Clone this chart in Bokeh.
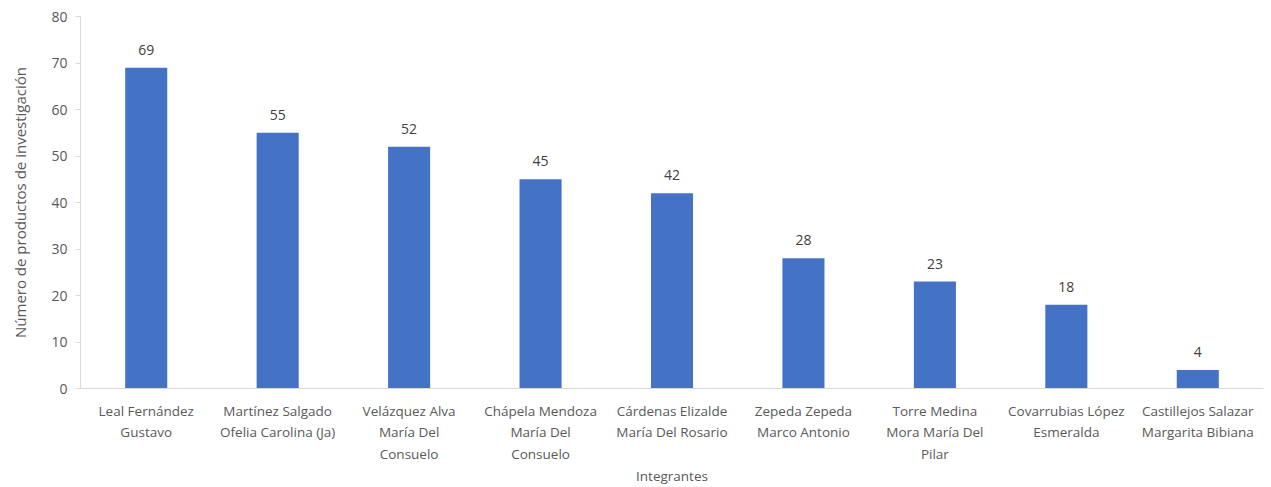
from bokeh.plotting import figure
from bokeh.models import ColumnDataSource, FactorRange, Range1d, FixedTicker
from bokeh.embed import file_html
from bokeh.resources import INLINE
from bokeh.core.properties import value

categories = [
    "Leal Fernández\nGustavo",
    "Martínez Salgado\nOfelia Carolina (Ja)",
    "Velázquez Alva\nMaría Del\nConsuelo",
    "Chápela Mendoza\nMaría Del\nConsuelo",
    "Cárdenas Elizalde\nMaría Del Rosario",
    "Zepeda Zepeda\nMarco Antonio",
    "Torre Medina\nMora María Del\nPilar",
    "Covarrubias López\nEsmeralda",
    "Castillejos Salazar\nMargarita Bibiana",
]
values = [69, 55, 52, 45, 42, 28, 23, 18, 4]
y_ticks = [0, 10, 20, 30, 40, 50, 60, 70, 80]

FONT = "Open Sans"
GRAY = "#595959"

src = ColumnDataSource(dict(cat=categories, val=values, lbl=[str(v) for v in values]))

p = figure(x_range=FactorRange(*categories, range_padding=0), y_range=Range1d(0, 80),
           width=1271, height=487, output_backend="svg", toolbar_location=None,
           min_border_left=80, min_border_right=8, min_border_top=16, min_border_bottom=10)
p.outline_line_color = None
p.grid.grid_line_color = None

p.vbar(x="cat", top="val", width=0.32, source=src, fill_color="#4472C4", line_color=None)
p.text(x="cat", y="val", text="lbl", source=src, text_align="center", text_baseline="bottom",
       y_offset=-13, text_font=value(FONT), text_font_size="14px", text_color="#404040")

p.yaxis.ticker = FixedTicker(ticks=y_ticks)
p.yaxis.minor_tick_line_color = None
p.yaxis.major_tick_in = 0
p.yaxis.major_tick_out = 5
p.yaxis.axis_line_color = "#d9d9d9"
p.yaxis.major_tick_line_color = "#d9d9d9"
p.yaxis.major_label_text_font = FONT
p.yaxis.major_label_text_font_size = "14px"
p.yaxis.major_label_text_color = GRAY
p.yaxis.major_label_standoff = 8
p.yaxis.axis_label = "Número de productos de investigación"
p.yaxis.axis_label_text_font = FONT
p.yaxis.axis_label_text_font_size = "15px"
p.yaxis.axis_label_text_font_style = "normal"
p.yaxis.axis_label_text_color = GRAY
p.yaxis.axis_label_standoff = 18

p.xaxis.axis_line_color = "#d9d9d9"
p.xaxis.major_tick_line_color = None
p.xaxis.minor_tick_line_color = None
p.xaxis.major_label_text_font = FONT
p.xaxis.major_label_text_font_size = "13.5px"
p.xaxis.major_label_text_color = GRAY
p.xaxis.major_label_standoff = 7
p.xaxis.axis_label = "Integrantes"
p.xaxis.axis_label_text_font = FONT
p.xaxis.axis_label_text_font_size = "13.5px"
p.xaxis.axis_label_text_font_style = "normal"
p.xaxis.axis_label_text_color = GRAY
p.xaxis.axis_label_standoff = 1

open("out.html", "w").write(file_html(p, INLINE))
